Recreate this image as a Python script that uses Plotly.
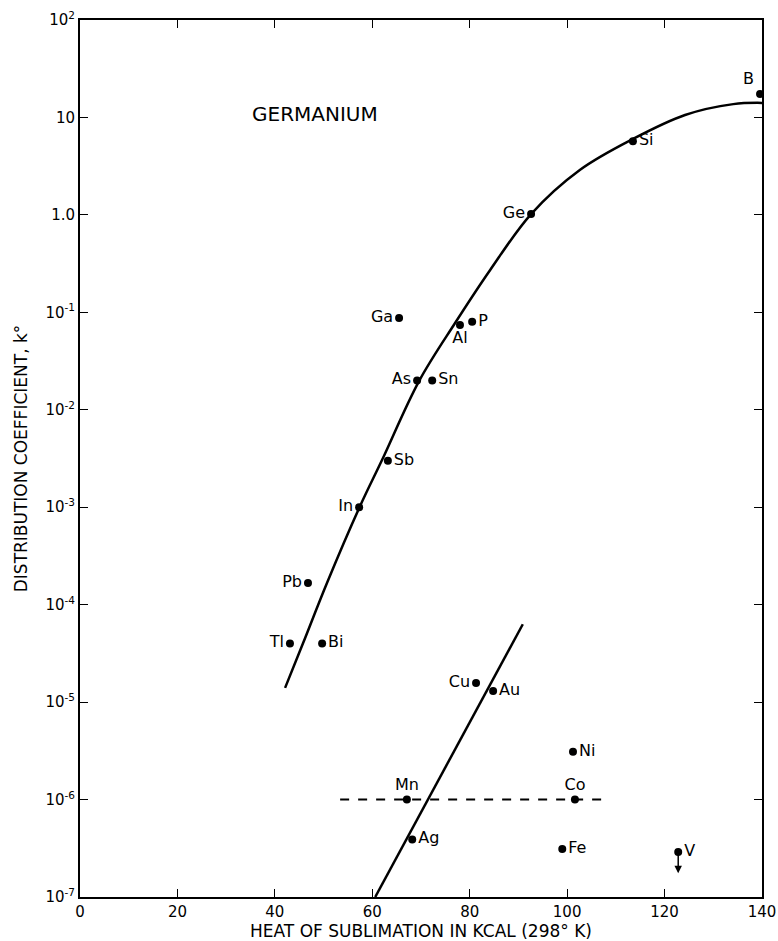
import plotly.graph_objects as go
import numpy as np

# ---- data ----
elements = ["B", "Si", "Ge", "Ga", "Al", "P", "As", "Sn", "Sb", "In", "Pb", "Tl", "Bi",
            "Cu", "Au", "Ni", "Mn", "Co", "Ag", "Fe", "V"]
heat = [139.6, 113.5, 92.6, 65.5, 78.0, 80.5, 69.2, 72.3, 63.2, 57.3, 46.8, 43.1, 49.7,
        81.3, 84.8, 101.2, 67.1, 101.6, 68.2, 99.0, 122.8]
k0 = [17.4, 5.7, 1.02, 0.0875, 0.074, 0.080, 0.020, 0.020, 0.0030, 0.0010, 1.67e-4, 4.0e-5, 4.0e-5,
      1.57e-5, 1.3e-5, 3.1e-6, 1.0e-6, 1.0e-6, 3.9e-7, 3.1e-7, 2.9e-7]

# hand-drawn fitted curve
curve_x = [42.1, 45.8, 50.7, 57.5, 62.0, 69.6, 77.0, 84.2, 92.6, 102.6, 113.5, 124.2, 134.1, 140.0]
curve_k = [1.40e-5, 4.04e-5, 1.67e-4, 1.03e-3, 3.05e-3, 1.97e-2, 7.77e-2, 0.272, 1.02, 2.89, 6.01,
           10.6, 13.7, 14.1]

line2_x = [60.6, 90.9]
line2_k = [1.0e-7, 6.3e-5]

dash_x = [53.4, 107.1]
dash_k = [1.0e-6, 1.0e-6]

xticks = [0, 20, 40, 60, 80, 100, 120, 140]
yticks_exp = [-7, -6, -5, -4, -3, -2, -1, 0, 1, 2]
yticks_text = ["10<sup>-7</sup>", "10<sup>-6</sup>", "10<sup>-5</sup>", "10<sup>-4</sup>",
               "10<sup>-3</sup>", "10<sup>-2</sup>", "10<sup>-1</sup>", "1.0", "10", "10<sup>2</sup>"]

# ---- styles ----
label_pos = {
    "B": "top left", "Si": "middle right", "Ge": "middle left", "Ga": "middle left",
    "Al": "bottom center", "P": "middle right", "As": "middle left", "Sn": "middle right",
    "Sb": "middle right", "In": "middle left", "Pb": "middle left", "Tl": "middle left",
    "Bi": "middle right", "Cu": "middle left", "Au": "middle right", "Ni": "middle right",
    "Mn": "top center", "Co": "top center", "Ag": "middle right", "Fe": "middle right",
    "V": "middle right",
}
FONT = "DejaVu Sans"

fig = go.Figure()
fig.add_trace(go.Scatter(x=curve_x, y=curve_k, mode="lines",
                         line=dict(color="black", width=2.5, shape="spline", smoothing=1.0),
                         hoverinfo="skip", showlegend=False))
fig.add_trace(go.Scatter(x=line2_x, y=line2_k, mode="lines", line=dict(color="black", width=2.5),
                         hoverinfo="skip", showlegend=False))
fig.add_trace(go.Scatter(x=dash_x, y=dash_k, mode="lines", line=dict(color="black", width=2, dash="dash"),
                         hoverinfo="skip", showlegend=False))
fig.add_trace(go.Scatter(x=heat, y=k0, mode="markers+text", text=elements,
                         textposition=[label_pos[e] for e in elements],
                         textfont=dict(family=FONT, size=16, color="black"),
                         marker=dict(color="black", size=8), cliponaxis=False, showlegend=False))

# V upper-limit arrow
vi = elements.index("V")
fig.add_annotation(x=heat[vi], y=np.log10(1.75e-7), ax=heat[vi], ay=np.log10(k0[vi]),
                   xref="x", yref="y", axref="x", ayref="y", text="", showarrow=True,
                   arrowhead=2, arrowsize=1, arrowwidth=1.5, arrowcolor="black")

fig.add_annotation(x=48.2, y=1.035, xref="x", yref="y", text="GERMANIUM", showarrow=False,
                   font=dict(family=FONT, size=20, color="black"))

axis_common = dict(showline=True, linecolor="black", linewidth=2, mirror="ticks", ticks="inside",
                   ticklen=8, tickwidth=1.2, tickcolor="black", showgrid=False, zeroline=False,
                   automargin=False, tickfont=dict(family=FONT, size=15, color="black"))
fig.update_xaxes(range=[0, 140], tickvals=xticks, ticktext=[str(t) for t in xticks],
                 title=dict(text="HEAT OF SUBLIMATION IN KCAL (298° K)",
                            font=dict(family=FONT, size=17, color="black"), standoff=2),
                 **axis_common)
fig.update_yaxes(type="log", range=[-7, 2], tickvals=[10.0 ** e for e in yticks_exp], ticktext=yticks_text,
                 title=dict(text="DISTRIBUTION COEFFICIENT, k°",
                            font=dict(family=FONT, size=17, color="black"), standoff=13),
                 **axis_common)
fig.update_layout(width=778, height=941, margin=dict(l=80, r=16, t=20, b=44),
                  plot_bgcolor="white", paper_bgcolor="white", font=dict(family=FONT, color="black"))
# remove the default page margin so the figure fills the window exactly
fig.write_html("out.html", config={"displayModeBar": False},
               post_script="document.body.style.margin='0';document.body.style.overflow='hidden';")
